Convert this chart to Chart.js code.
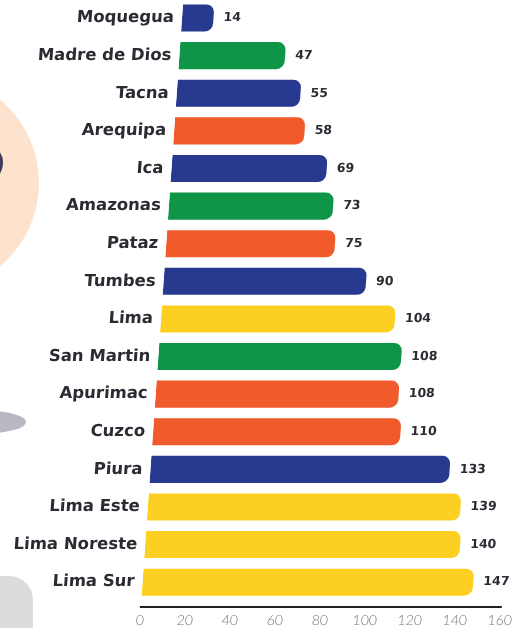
<!DOCTYPE html>
<html>
<head>
<meta charset="utf-8">
<script src="https://cdn.jsdelivr.net/npm/chart.js@4"></script>
<style>
  html, body { margin: 0; padding: 0; background: #ffffff; }
  #wrap { width: 518px; height: 628px; position: relative; }
</style>
</head>
<body>
<div id="wrap"><canvas id="chart"></canvas></div>
<script>
const regions = ['Moquegua', 'Madre de Dios', 'Tacna', 'Arequipa', 'Ica', 'Amazonas', 'Pataz', 'Tumbes',
  'Lima', 'San Martin', 'Apurimac', 'Cuzco', 'Piura', 'Lima Este', 'Lima Noreste', 'Lima Sur'];
const cases = [14, 47, 55, 58, 69, 73, 75, 90, 104, 108, 108, 110, 133, 139, 140, 147];
const colorGroups = ['blue', 'green', 'blue', 'orange', 'blue', 'green', 'orange', 'blue',
  'yellow', 'green', 'orange', 'orange', 'blue', 'yellow', 'yellow', 'yellow'];
const xTicks = [0, 20, 40, 60, 80, 100, 120, 140, 160];

const PALETTE = {
  blue:   '#283a8f',
  green:  '#0e9548',
  orange: '#f15a2b',
  yellow: '#fccf22',
};

const TEXT_DARK = '#2c2b33';
const SHEAR = 0.07;

// rows sit on a numeric index axis so the baseline can sit a bit below the last bar
const rows = cases.map((v, i) => ({ x: v, y: i }));

// background blobs + slanted look of the infographic
const decorPlugin = {
  id: 'decor',
  beforeDraw(chart) {
    const ctx = chart.ctx;
    ctx.save();
    ctx.fillStyle = '#fde3cd';
    ctx.beginPath();
    ctx.arc(-70, 183, 109, 0, Math.PI * 2);
    ctx.fill();
    ctx.fillStyle = '#3b3b5c';
    ctx.beginPath();
    ctx.ellipse(-6, 163, 9, 14, 0, 0, Math.PI * 2);
    ctx.fill();
    ctx.fillStyle = '#b9b7c1';
    ctx.beginPath();
    ctx.ellipse(-12, 422, 38, 11, 0, 0, Math.PI * 2);
    ctx.fill();
    ctx.fillStyle = '#dcdcdc';
    ctx.beginPath();
    ctx.roundRect(-30, 576, 63, 90, 24);
    ctx.fill();
    ctx.restore();

    const pivot = chart.chartArea.bottom - 3;
    ctx.save();
    ctx.transform(1, 0, -SHEAR, 1, SHEAR * pivot, 0);
  },
  afterDatasetsDraw(chart) {
    const ctx = chart.ctx;
    const meta = chart.getDatasetMeta(0);
    ctx.save();
    ctx.font = 'bold 12.5px "DejaVu Sans"';
    ctx.fillStyle = TEXT_DARK;
    ctx.textBaseline = 'middle';
    ctx.textAlign = 'left';
    meta.data.forEach((bar, i) => {
      ctx.fillText(String(cases[i]), bar.x + 10, bar.y);
    });
    ctx.restore();
  },
  afterDraw(chart) {
    chart.ctx.restore();
  }
};

new Chart(document.getElementById('chart'), {
  type: 'bar',
  data: {
    datasets: [{
      data: rows,
      backgroundColor: colorGroups.map(g => PALETTE[g]),
      borderRadius: 8,
      borderSkipped: 'start',
      categoryPercentage: 0.8,
      barPercentage: 0.9,
    }]
  },
  options: {
    indexAxis: 'y',
    responsive: true,
    maintainAspectRatio: false,
    animation: false,
    layout: { padding: { top: 0, right: 17, bottom: 0, left: 0 } },
    plugins: {
      legend: { display: false },
      tooltip: { enabled: false },
    },
    scales: {
      x: {
        type: 'linear',
        min: xTicks[0],
        max: xTicks[xTicks.length - 1],
        grid: { display: false, drawTicks: false },
        border: { display: true, color: '#222226', width: 2 },
        afterBuildTicks: (scale) => { scale.ticks = xTicks.map(v => ({ value: v })); },
        afterFit: (scale) => { scale.paddingLeft = 0; scale.paddingRight = 0; scale.height = 21; },
        ticks: {
          padding: 8,
          maxRotation: 0,
          autoSkip: false,
          color: '#777777',
          font: { family: 'Lato', weight: '300', size: 14, lineHeight: 0.8 },
        },
      },
      y: {
        type: 'linear',
        reverse: true,
        offset: false,
        min: -0.48,
        max: regions.length - 0.34,
        grid: { display: false, drawTicks: false },
        border: { display: false },
        afterBuildTicks: (scale) => { scale.ticks = regions.map((r, i) => ({ value: i })); },
        afterFit: (scale) => { scale.width = 141; scale.paddingTop = 0; scale.paddingBottom = 0; },
        ticks: {
          padding: 8,
          autoSkip: false,
          color: TEXT_DARK,
          font: { family: 'DejaVu Sans', weight: 'bold', size: 16.5, lineHeight: 0.1 },
          callback: (v) => regions[v],
        },
      },
    },
  },
  plugins: [decorPlugin],
});
</script>
</body>
</html>
